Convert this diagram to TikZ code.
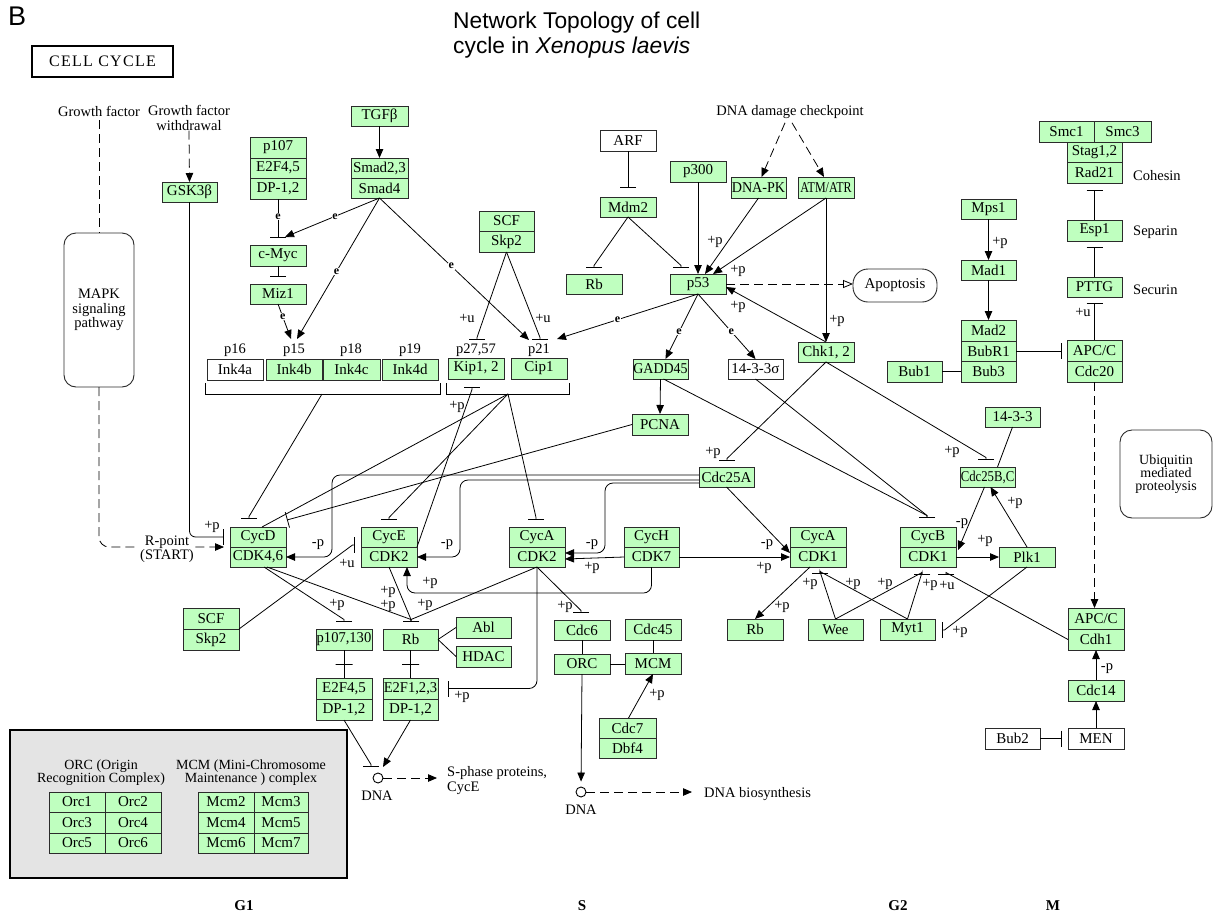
\documentclass[tikz,border=0pt]{standalone}
\usepackage{fontspec}
\setmainfont{Liberation Serif}
\newfontfamily\sansfam{Liberation Sans}
\newfontfamily\ccfont[LetterSpace=8]{Liberation Serif}
\usetikzlibrary{arrows.meta,calc}
\definecolor{kg}{HTML}{BFFFBF}
\definecolor{kgray}{HTML}{E4E4E4}
\definecolor{bd}{HTML}{2B2B2B}
\tikzset{
  kbase/.style={draw=bd, line width=0.9pt, inner sep=0pt, outer sep=0pt, font=\fontsize{15}{15}\selectfont},
  gbox/.style={kbase, fill=kg},
  wbox/.style={kbase, fill=white},
  rbox/.style={kbase, fill=white, rounded corners=12pt, align=center},
  lab/.style={font=\fontsize{14.5}{14.5}\selectfont, inner sep=0pt},
  elab/.style={font=\fontsize{12}{12}\selectfont\bfseries, inner sep=0.6pt, fill=white},
  ln/.style={draw=black, line width=0.8pt},
  act/.style={ln, -{Triangle[length=9pt,width=7.5pt]}},
  inh/.style={ln, -{Bar[width=16pt]}},
  dsh/.style={ln, dash pattern=on 9pt off 5pt},
  dact/.style={dsh, -{Triangle[length=9pt,width=7.5pt]}},
  dopen/.style={dsh, -{Triangle[open,length=10pt,width=8pt]}},
  xbar/.style={draw=black, line width=0.8pt, rectangle, minimum width=17pt, minimum height=0pt, inner sep=0pt},
}
\newcommand{\kbox}[7][gbox]{\node[#1, minimum width={(#5-(#3))*1pt}, minimum height={(#6-(#4))*1pt}] (#2) at ({(#3+#5)/2},{(#4+#6)/2}) {#7};}
\newcounter{lbc}
\newcommand{\klab}[3]{\stepcounter{lbc}\node[lab] (lb\arabic{lbc}) at (#1,#2) {#3};}
\newcommand{\teeh}[2]{\draw[inh] (#1) -- ($(#2)+(0,-2.5)$) -- (#2);}
\newcommand{\teehu}[2]{\draw[inh] (#1) -- ($(#2)+(0,2.5)$) -- (#2);}
\newcommand{\teev}[2]{\draw[inh] (#1) -- ($(#2)+(-2.5,0)$) -- (#2);}
\newcommand{\teevr}[2]{\draw[inh] (#1) -- ($(#2)+(2.5,0)$) -- (#2);}
\begin{document}
\begin{tikzpicture}[x=1pt,y=-1pt]
\useasboundingbox (0,0) rectangle (1214,918);
\fill[white] (0,0) rectangle (1214,918);

% ---------- headings ----------
\node[anchor=west, inner sep=0pt, font=\sansfam\fontsize{27}{27}\selectfont] (blab) at (8,16) {B};
\node[anchor=west, inner sep=0pt, font=\sansfam\fontsize{22.8}{22.8}\selectfont] (tit1) at (453,23) {Network Topology of cell};
\node[anchor=west, inner sep=0pt, font=\sansfam\fontsize{22.8}{22.8}\selectfont] (tit2) at (453,48) {cycle in \itshape Xenopus laevis};
\node[kbase, draw=black, line width=2.2pt, fill=white, minimum width=141pt, minimum height=31pt] (cellcycle) at (102.5,61.5) {\ccfont\fontsize{16}{16}\selectfont CELL CYCLE};

\node[lab] (gf) at (99,111) {Growth factor};
\node[lab, align=center] (gfw) at (189,118) {Growth factor\\withdrawal};
\node[lab] (dnadc) at (790,112) {DNA damage checkpoint};

% ---------- boxes ----------
\kbox[rbox, font=\fontsize{14.5}{14.5}\selectfont]{mapk}{64}{233}{134}{387}{MAPK\\signaling\\pathway}
\kbox{gsk}{162}{182}{217}{202}{GSK3β}
\kbox{p107}{250}{137}{306}{158}{p107}
\kbox{e2f45a}{250}{158}{306}{178}{E2F4,5}
\kbox{dp12a}{250}{178}{306}{199}{DP-1,2}
\kbox{cmyc}{250}{245}{306}{266}{c-Myc}
\kbox{miz1}{250}{284}{306}{304}{Miz1}
\kbox{tgfb}{351}{106}{408}{126}{TGFβ}
\kbox{smad23}{351}{158}{408}{178}{Smad2,3}
\kbox{smad4}{351}{178}{408}{198}{Smad4}
\kbox{scf1}{479}{211}{534}{231}{SCF}
\kbox{skp2a}{479}{231}{534}{252}{Skp2}
\kbox[wbox]{ink4a}{207}{359}{263}{380}{Ink4a}
\kbox{ink4b}{266}{359}{322}{380}{Ink4b}
\kbox{ink4c}{323}{359}{380}{380}{Ink4c}
\kbox{ink4d}{382}{359}{438}{380}{Ink4d}
\kbox{kip}{448}{358}{504}{379}{Kip1, 2}
\kbox{cip}{511}{358}{567}{379}{Cip1}
\node[lab] (p16) at (235,350) {p16};
\node[lab] (p15) at (294,350) {p15};
\node[lab] (p18) at (351,350) {p18};
\node[lab] (p19) at (410,350) {p19};
\node[lab] (p2757) at (476,350) {p27,57};
\node[lab] (p21) at (539,350) {p21};
\kbox[wbox]{arf}{600}{130}{656}{151}{ARF}
\kbox{mdm2}{600}{197}{656}{217}{Mdm2}
\kbox{rbt}{566}{274}{622}{294}{Rb}
\kbox{p300}{670}{161}{726}{182}{p300}
\kbox{p53}{670}{274}{726}{294}{p53}
\kbox{dnapk}{731}{177}{786}{198}{\scalebox{0.94}[1]{DNA-PK}}
\kbox{atm}{798}{177}{854}{198}{\scalebox{0.8}[1]{ATM/ATR}}
\kbox{chk}{798}{342}{854}{362}{Chk1, 2}
\kbox[rbox, rounded corners=15pt]{apop}{853}{269}{937}{302}{Apoptosis}
\kbox{gadd}{633}{359}{688}{379}{\scalebox{0.93}[1]{GADD45}}
\kbox[wbox]{s1433}{728}{359}{783}{379}{14-3-3σ}
\kbox{pcna}{632}{414}{688}{435}{PCNA}
\kbox{smc1}{1039}{121}{1094}{142}{Smc1}
\kbox{smc3}{1094}{121}{1151}{142}{Smc3}
\kbox{stag}{1067}{142}{1122}{162}{Stag1,2}
\kbox{rad21}{1067}{162}{1122}{183}{Rad21}
\kbox{esp1}{1067}{220}{1122}{241}{Esp1}
\kbox{pttg}{1067}{277}{1122}{297}{PTTG}
\kbox{apc1}{1067}{340}{1122}{361}{APC/C}
\kbox{cdc20}{1067}{361}{1122}{382}{Cdc20}
\node[lab, anchor=west] (cohesin) at (1133,176) {Cohesin};
\node[lab, anchor=west] (separin) at (1133,232) {Separin};
\node[lab, anchor=west] (securin) at (1133,290) {Securin};
\kbox{mps1}{961}{199}{1016}{219}{Mps1}
\kbox{mad1}{961}{260}{1016}{280}{Mad1}
\kbox{mad2}{961}{320}{1016}{341}{Mad2}
\kbox{bubr1}{961}{341}{1016}{361}{BubR1}
\kbox{bub3}{961}{361}{1016}{382}{Bub3}
\kbox{bub1}{887}{361}{942}{382}{Bub1}
\kbox{t1433}{985}{407}{1040}{427}{14-3-3}
\kbox{cdc25bc}{960}{467}{1015}{487}{\scalebox{0.85}[1]{Cdc25B,C}}
\kbox[rbox, font=\fontsize{14}{13}\selectfont]{ubiq}{1120}{430}{1212}{518}{Ubiquitin\\mediated\\proteolysis}
\kbox{cdc25a}{699}{467}{754}{487}{Cdc25A}
\kbox{cycd}{230}{527}{286}{547}{CycD}
\kbox{cdk46}{230}{547}{286}{567}{CDK4,6}
\kbox{cyce}{361}{527}{417}{547}{CycE}
\kbox{cdk2e}{361}{547}{417}{567}{CDK2}
\kbox{cyca2}{509}{527}{565}{547}{CycA}
\kbox{cdk2a}{509}{547}{565}{567}{CDK2}
\kbox{cych}{624}{527}{679}{547}{CycH}
\kbox{cdk7}{624}{547}{679}{567}{CDK7}
\kbox{cyca1}{790}{527}{846}{547}{CycA}
\kbox{cdk1a}{790}{547}{846}{567}{CDK1}
\kbox{cycb}{900}{527}{956}{547}{CycB}
\kbox{cdk1b}{900}{547}{956}{567}{CDK1}
\kbox{plk1}{999}{547}{1055}{567}{Plk1}
\kbox{scf2}{183}{608}{239}{629}{SCF}
\kbox{skp2b}{183}{629}{239}{650}{Skp2}
\kbox{p107130}{316}{629}{372}{650}{\scalebox{0.97}[1]{p107,130}}
\kbox{rbl}{383}{629}{438}{650}{Rb}
\kbox{abl}{456}{617}{511}{638}{Abl}
\kbox{hdac}{456}{646}{511}{667}{HDAC}
\kbox{e2f45b}{316}{678}{372}{699}{E2F4,5}
\kbox{dp12b}{316}{699}{372}{720}{DP-1,2}
\kbox{e2f123}{383}{678}{438}{699}{\scalebox{0.97}[1]{E2F1,2,3}}
\kbox{dp12c}{383}{699}{438}{720}{DP-1,2}
\kbox{cdc6}{554}{620}{610}{640}{Cdc6}
\kbox{orc}{554}{654}{610}{674}{ORC}
\kbox{cdc45}{625}{619}{681}{640}{Cdc45}
\kbox{mcm}{625}{653}{681}{674}{MCM}
\kbox{cdc7}{599}{718}{656}{738}{Cdc7}
\kbox{dbf4}{599}{738}{656}{758}{Dbf4}
\kbox{rbr}{727}{619}{783}{640}{Rb}
\kbox{wee}{808}{619}{863}{640}{Wee}
\kbox{myt1}{880}{619}{935}{640}{Myt1}
\kbox{apc2}{1068}{608}{1124}{629}{APC/C}
\kbox{cdh1}{1068}{629}{1124}{650}{Cdh1}
\kbox{cdc14}{1068}{680}{1124}{701}{Cdc14}
\kbox[wbox]{men}{1068}{728}{1124}{749}{MEN}
\kbox[wbox]{bub2}{985}{728}{1040}{749}{Bub2}

% DNA
\node[circle, draw=black, line width=0.9pt, minimum size=10pt, inner sep=0pt, fill=white] (dna1) at (378,778) {};
\node[lab] (dna1t) at (377,796) {DNA};
\node[circle, draw=black, line width=0.9pt, minimum size=10pt, inner sep=0pt, fill=white] (dna2) at (581,792) {};
\node[lab] (dna2t) at (581,810) {DNA};
\node[lab, anchor=west, align=left, font=\fontsize{14.5}{15}\selectfont] (sphase) at (447,780.5) {S-phase proteins,\\ CycE};
\node[lab, anchor=west] (dnabio) at (704,794) {DNA biosynthesis};

% legend
\node[kbase, draw=black, line width=2.2pt, fill=kgray, minimum width=337pt, minimum height=148pt] (legend) at (178.5,804) {};
\node[lab, align=center, font=\fontsize{14}{13}\selectfont] (orct) at (101,773) {ORC (Origin\\Recognition Complex)};
\node[lab, align=center, font=\fontsize{14}{13}\selectfont] (mcmt) at (251,773) {MCM (Mini-Chromosome\\Maintenance ) complex};
\kbox{orc1}{49}{792}{105}{812}{Orc1}
\kbox{orc2}{105}{792}{161}{812}{Orc2}
\kbox{orc3}{49}{812}{105}{833}{Orc3}
\kbox{orc4}{105}{812}{161}{833}{Orc4}
\kbox{orc5}{49}{833}{105}{853}{Orc5}
\kbox{orc6}{105}{833}{161}{853}{Orc6}
\kbox{mcm2}{198}{792}{254}{812}{Mcm2}
\kbox{mcm3}{254}{792}{308}{812}{Mcm3}
\kbox{mcm4}{198}{812}{254}{833}{Mcm4}
\kbox{mcm5}{254}{812}{308}{833}{Mcm5}
\kbox{mcm6}{198}{833}{254}{853}{Mcm6}
\kbox{mcm7}{254}{833}{308}{853}{Mcm7}

% phases
\node[lab, font=\bfseries\fontsize{15}{15}\selectfont] (g1) at (244,906) {G1};
\node[lab, font=\bfseries\fontsize{15}{15}\selectfont] (sph) at (582,906) {S};
\node[lab, font=\bfseries\fontsize{15}{15}\selectfont] (g2) at (898,906) {G2};
\node[lab, font=\bfseries\fontsize{15}{15}\selectfont] (mph) at (1053,906) {M};

% ---------- coordinates ----------
\coordinate (tcmyc) at (285,237);
\coordinate (tp15a) at (297,339);
\coordinate (tp15b) at (291,339);
\coordinate (tp21a) at (529,340);
\coordinate (tp21b) at (557,339);
\coordinate (tkip) at (477,340);
\coordinate (tcip) at (540,340);
\coordinate (trbt) at (594,268);
\coordinate (tp53m) at (681,268);
\coordinate (ikb) at (322,394);
\coordinate (kcb) at (508,394);
\coordinate (tcycd1) at (249,519);
\coordinate (tcycd2) at (287,520);
\coordinate (tcyce) at (389,520);
\coordinate (tcyca2) at (536,520);
\coordinate (tkip2) at (472,387);
\coordinate (tcyceu) at (355,545);
\coordinate (tp107) at (344,622);
\coordinate (trbl) at (411,622);
\coordinate (tcdc6) at (581,613);
\coordinate (tcdc25a) at (727,461);
\coordinate (tcdc25bc) at (986,460);
\coordinate (tcycb1) at (927,518);
\coordinate (tcdk1a) at (820,574);
\coordinate (tcdk1b) at (922,575);
\coordinate (tcdk1bu) at (946,575);
\coordinate (tmyt1) at (942,630);
\coordinate (tdna) at (371,767);
\coordinate (tdna2) at (383,767);
\coordinate (cp1) at (332,557);
\coordinate (cp2) at (460,557);
\coordinate (cp3) at (605,553);
\coordinate (cp4) at (407,593);

% ---------- brackets ----------
\draw[ln] (205,383) |- (440,394) -- (440,383);
\draw[ln] (446,383) |- (569,394) -- (569,383);

% ---------- connectors: left/top ----------
\draw[dsh, shorten <=4pt] (gf.south) -- (mapk.north);
\draw[dact, rounded corners=10pt, shorten >=6pt] (mapk.south) |- (cdk46.north west);
\node[lab, fill=white, align=center, font=\fontsize{14.5}{13}\selectfont, inner sep=1pt] (rpoint) at (167,549) {R-point\\(START)};
\draw[dact] (gfw.south) -- (gsk.north);
\draw[inh, rounded corners=6pt, shorten >=6pt] (gsk.south) |- (cycd.west);
\draw[act] (tgfb.south) -- (smad23.north);
\draw[inh, shorten >=7pt] (dp12a.south) -- node[elab, pos=0.38] (e1) {e} (cmyc.north);
\draw[act] (smad4.south) -- node[elab, pos=0.47] (e2) {e} (tcmyc);
\draw[act] (smad4.south) -- node[elab, pos=0.52] (e3) {e} (tp15a);
\draw[act] (miz1.south) -- node[elab, pos=0.36] (e4) {e} (tp15b);
\draw[act] (smad4.south) -- node[elab, pos=0.48] (e5) {e} (tp21a);
\draw[inh, shorten >=7pt] (cmyc.south) -- (miz1.north);
\teeh{skp2a.south}{tkip}
\teeh{skp2a.south}{tcip}

% p53 area
\draw[inh, shorten >=9pt] (arf.south) -- (mdm2.north);
\teeh{mdm2.south}{trbt}
\teeh{mdm2.south}{tp53m}
\draw[act] (p300.south) -- (p53.north);
\draw[dact] ($(dnadc.south)+(-5,4)$) -- ($(dnapk.north)+(3,0)$);
\draw[dact] ($(dnadc.south)+(2,4)$) -- ($(atm.north)+(-2,0)$);
\draw[act] (dnapk.south) -- ($(p53.north)+(7,0)$);
\draw[act] (atm.south) -- ($(p53.north)+(15,0)$);
\draw[act] (atm.south) -- (chk.north);
\draw[act] (chk.north) -- ($(p53.east)+(0,3)$);
\draw[dopen] (p53.east) -- (p53.east -| apop.west);
\draw[act] (p53.south) -- node[elab, pos=0.57] (e6) {e} (tp21b);
\draw[act] (p53.south) -- node[elab, pos=0.58] (e7) {e} ($(gadd.north)+(5,0)$);
\draw[act] (p53.south) -- node[elab, pos=0.58] (e8) {e} (s1433.north);
\draw[act] (gadd.south) -- (pcna.north);
\teeh{$(gadd.south)+(3,0)$}{tcycb1}
\teeh{s1433.south}{tcycb1}
\teeh{chk.south}{tcdc25a}
\teeh{chk.south}{tcdc25bc}

% CDK inhibitors
\draw[ln] (kcb) -- ($(cycd.north)+(4,0)$);
\teeh{kcb}{tcyce}
\teeh{kcb}{tcyca2}
\teeh{ikb}{tcycd1}
\draw[inh] (pcna.west) -- (tcycd2);
\teehu{cdk2e.north east}{tkip2}
\teev{scf2.south east}{tcyceu}

% Cdc25A and CAK
\draw[act, rounded corners=8pt] ($(cdc25a.west)+(0,-2)$) -| (cp1) -- (cdk46.east);
\draw[act, rounded corners=8pt] ($(cdc25a.west)+(0,3)$) -| (cp2) -- (cdk2e.east);
\draw[act, rounded corners=8pt] ($(cdc25a.west)+(0,6)$) -| (cp3) -- ($(cdk2a.east)+(0,-4)$);
\draw[act] (cdc25a.south) -- ($(cdk1a.west)+(0,-4)$);
\draw[act] (cdk7.east) -- (cdk1a.west);
\draw[act] (cdk7.west) -- ($(cdk2a.east)+(0,2)$);
\draw[act, rounded corners=8pt] (cdk7.south) |- (cp4) -- ($(cdk2e.south)+(18,0)$);

% G1/S targets
\teeh{$(cdk46.south)+(6,0)$}{tp107}
\teeh{$(cdk46.south)+(9,0)$}{trbl}
\teeh{cdk2e.south}{trbl}
\teeh{cdk2a.south}{trbl}
\teeh{cdk2a.south}{tcdc6}
\draw[inh, rounded corners=8pt, shorten >=10pt] (cdk2a.south) |- (e2f123.east);
\draw[ln] (p107130.south) -- node[xbar] (xb1) {} (e2f45b.north);
\draw[ln] (rbl.south) -- node[xbar] (xb2) {} (e2f123.north);
\draw[ln] (rbl.east) -- (abl.west);
\draw[ln] (rbl.east) -- (hdac.west);
\teeh{dp12b.south}{tdna}
\draw[act] (dp12c.south) -- (tdna2);
\draw[dact, shorten >=10pt] (dna1.east) -- (dna1.east -| sphase.west);

% S phase
\draw[ln] (cdc6.south) -- (orc.north);
\draw[ln] (orc.east) -- (orc.east -| mcm.west);
\draw[ln] (cdc45.south) -- (mcm.north);
\draw[act] ($(cdc7.north)+(1,0)$) -- (mcm.south);
\draw[act, shorten >=5pt] (orc.south) -- (dna2.north);
\draw[dact, shorten >=12pt] (dna2.east) -- (dna2.east -| dnabio.west);

% G2/M
\draw[act] ($(cdk1a.south)+(-8,0)$) -- (rbr.north);
\teeh{wee.north}{tcdk1a}
\teeh{myt1.north}{tcdk1a}
\teeh{wee.north}{tcdk1b}
\teeh{myt1.north}{tcdk1b}
\teeh{cdh1.west}{tcdk1bu}
\teevr{plk1.south}{tmyt1}
\draw[act] (cdk1b.east) -- (plk1.west);
\draw[act] (plk1.north) -- ($(cdc25bc.south)+(3,0)$);
\draw[act] ($(cdc25bc.south)+(-3,0)$) -- ($(cdk1b.east)+(2,-7)$);
\draw[ln] (t1433.south) -- ($(cdc25bc.north)+(10,0)$);

% spindle checkpoint / M
\draw[act] (mps1.south) -- (mad1.north);
\draw[act] (mad1.south) -- (mad2.north);
\draw[ln] (bub1.east) -- (bub3.west);
\draw[inh, shorten >=5pt] (bubr1.east) -- (bubr1.east -| apc1.west);
\draw[inh, shorten >=7pt] (esp1.north) -- (rad21.south);
\draw[inh, shorten >=6pt] (pttg.north) -- (esp1.south);
\draw[inh, shorten >=6pt] (apc1.north) -- (pttg.south);
\draw[dact] (cdc20.south) -- (cdc20.south |- apc2.north);
\draw[act] (men.north) -- (cdc14.south);
\draw[act] (cdc14.north) -- (cdh1.south);
\draw[inh, shorten >=6pt] (bub2.east) -- (men.west);

% ---------- edge labels ----------
\klab{212}{527}{+p}
\klab{467}{318}{+u}
\klab{543}{318}{+u}
\klab{457}{407}{+p}
\klab{318}{545}{-p}
\klab{447}{545}{-p}
\klab{592}{545}{-p}
\klab{592}{568}{+p}
\klab{767}{545}{-p}
\klab{764}{568}{+p}
\klab{430}{583}{+p}
\klab{347}{563}{+u}
\klab{337}{605}{+p}
\klab{388}{592}{+p}
\klab{388}{606}{+p}
\klab{425}{605}{+p}
\klab{565}{607}{+p}
\klab{462}{697}{+p}
\klab{657}{695}{+p}
\klab{782}{607}{+p}
\klab{810}{584}{+p}
\klab{853}{584}{+p}
\klab{885}{584}{+p}
\klab{930}{585}{+p}
\klab{947}{585}{+u}
\klab{960}{632}{+p}
\klab{985}{541}{+p}
\klab{1015}{503}{+p}
\klab{962}{524}{-p}
\klab{952}{452}{+p}
\klab{713}{453}{+p}
\klab{715}{242}{+p}
\klab{738}{271}{+p}
\klab{738}{307}{+p}
\klab{837}{321}{+p}
\klab{1000}{243}{+p}
\klab{1083}{312}{+u}
\klab{1107}{669}{-p}
\end{tikzpicture}
\end{document}
